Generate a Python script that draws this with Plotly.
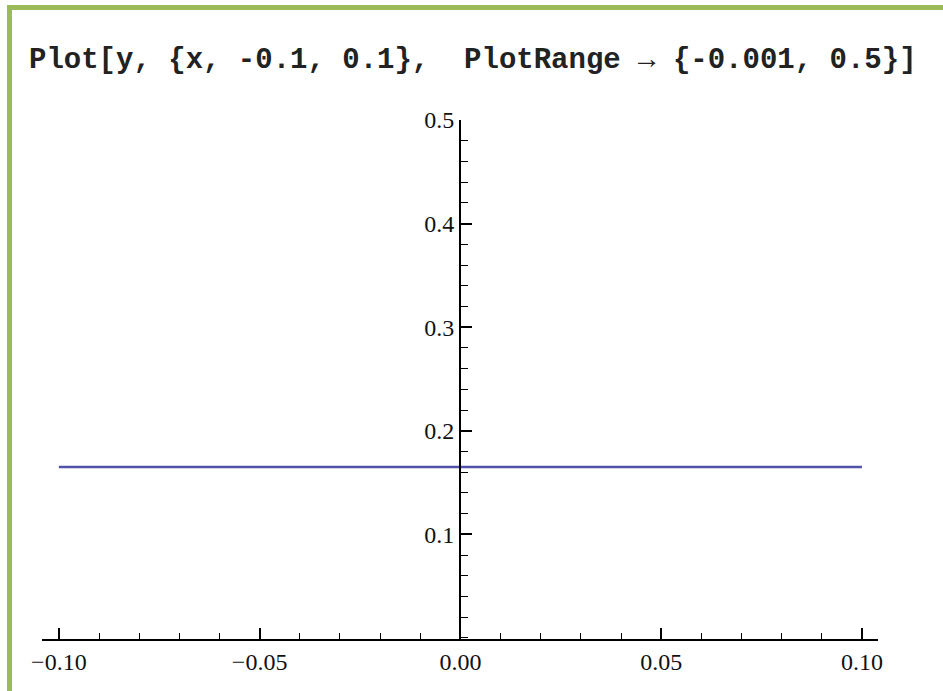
import plotly.graph_objects as go

# data
x_vals = [-0.1, 0.1]
y_vals = [0.165, 0.165]
x_tickvals = [-0.10, -0.05, 0.0, 0.05, 0.10]
x_ticktext = ["\u22120.10", "\u22120.05", "0.00", "0.05", "0.10"]
y_tickvals = [0.1, 0.2, 0.3, 0.4, 0.5]
y_ticktext = ["0.1", "0.2", "0.3", "0.4", "0.5"]
title_text = "Plot[y, {x, -0.1, 0.1},  PlotRange \u2192 {-0.001, 0.5}]"

W, H = 943, 691
ML, MR, MT, MB = 42, 65, 120, 52
PW = W - ML - MR
PH = H - MT - MB


def px(xp):
    return (xp - ML) / PW


def py(yp):
    return (H - MB - yp) / PH


fig = go.Figure()
fig.add_trace(go.Scatter(x=x_vals, y=y_vals, mode="lines",
                         line=dict(color="#5252aa", width=2.5),
                         showlegend=False, hoverinfo="skip"))

tickfont = dict(family="Liberation Serif", size=24, color="#111")

fig.update_layout(
    width=W, height=H,
    margin=dict(l=ML, r=MR, t=MT, b=MB),
    paper_bgcolor="white", plot_bgcolor="white",
    xaxis=dict(range=[-0.1042, 0.104], showgrid=False, zeroline=False,
               showline=True, linecolor="black", linewidth=2,
               ticks="inside", ticklen=11, tickwidth=1.5, tickcolor="black",
               tickmode="array", tickvals=x_tickvals, ticktext=x_ticktext,
               tickfont=tickfont,
               minor=dict(ticks="inside", ticklen=6, tickwidth=1.3,
                          tickcolor="black", dtick=0.01, tick0=0, showgrid=False)),
    yaxis=dict(range=[-0.001, 0.5], showgrid=False, zeroline=False,
               anchor="free", position=0.5,
               showline=True, linecolor="black", linewidth=2,
               ticks="inside", ticklen=11, tickwidth=1.5, tickcolor="black",
               tickmode="array", tickvals=y_tickvals, ticktext=y_ticktext,
               tickfont=tickfont,
               minor=dict(ticks="inside", ticklen=7, tickwidth=1.3,
                          tickcolor="black", dtick=0.02, tick0=0, showgrid=False)),
    annotations=[dict(text=title_text, xref="paper", yref="paper",
                      x=px(27), y=py(60), xanchor="left", yanchor="middle",
                      showarrow=False,
                      font=dict(family="Liberation Mono", size=29, color="#222",
                                weight="bold"))],
    shapes=[
        dict(type="rect", xref="paper", yref="paper", layer="above",
             x0=px(7), x1=px(W + 5), y0=py(10), y1=py(5),
             fillcolor="#9bbb59", line=dict(width=0)),
        dict(type="rect", xref="paper", yref="paper", layer="above",
             x0=px(7), x1=px(12), y0=py(H + 5), y1=py(5),
             fillcolor="#9bbb59", line=dict(width=0)),
    ],
)

fig.write_html("out.html",
               config={"displayModeBar": False},
               post_script="document.body.style.margin='0';document.body.style.overflow='hidden';")
